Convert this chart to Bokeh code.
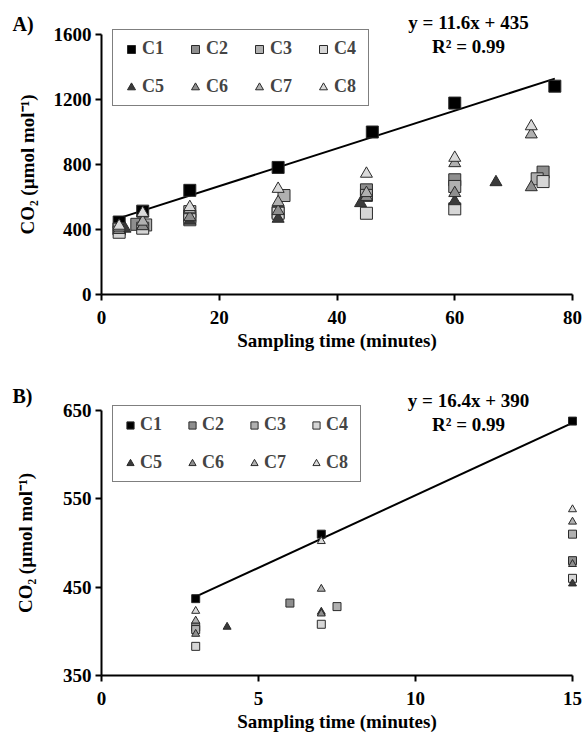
from bokeh.plotting import figure
from bokeh.models import Label, Legend, LegendItem
from bokeh.layouts import column
from bokeh.embed import file_html
from bokeh.resources import INLINE

FONT = "Liberation Serif"

# ---------------- data ----------------
series = ["C1", "C2", "C3", "C4", "C5", "C6", "C7", "C8"]
markers = ["square", "square", "square", "square",
           "triangle", "triangle", "triangle", "triangle"]
fills = ["#000000", "#8e8e8e", "#b0b0b0", "#d6d6d6",
         "#3a3a3a", "#8e8e8e", "#b0b0b0", "#dadada"]

# Panel A: whole sampling period (minutes, CO2 umol/mol)
a_time = {
    "C1": [3, 7, 15, 30, 46, 60, 77],
    "C2": [3, 6, 15, 30, 45, 60, 75],
    "C3": [3, 7.5, 15, 31, 45, 60, 74],
    "C4": [3, 7, 15, 30, 45, 60, 75],
    "C5": [4, 7, 15, 30, 44, 60, 67],
    "C6": [3, 7, 15, 30, 45, 60, 73],
    "C7": [3, 7, 15, 30, 45, 60, 73],
    "C8": [3, 7, 15, 30, 45, 60, 73],
}
a_co2 = {
    "C1": [446, 513, 641, 782, 1000, 1178, 1282],
    "C2": [405, 432, 480, 506, 644, 706, 753],
    "C3": [402, 428, 510, 609, 610, 665, 712],
    "C4": [383, 408, 460, 500, 500, 527, 695],
    "C5": [405, 422, 454, 466, 562, 574, 691],
    "C6": [397, 420, 476, 513, 600, 624, 660],
    "C7": [412, 448, 524, 568, 624, 808, 985],
    "C8": [423, 502, 538, 650, 743, 841, 1035],
}
# Panel B: first 15 minutes
b_time = {
    "C1": [3, 7, 15],
    "C2": [3, 6, 15],
    "C3": [3, 7.5, 15],
    "C4": [3, 7, 15],
    "C5": [4, 7, 15],
    "C6": [3, 7, 15],
    "C7": [3, 7, 15],
    "C8": [3, 7, 15],
}
b_co2 = {
    "C1": [437, 510, 638],
    "C2": [405, 432, 480],
    "C3": [402, 428, 510],
    "C4": [383, 408, 460],
    "C5": [405, 422, 454],
    "C6": [397, 420, 476],
    "C7": [412, 448, 524],
    "C8": [423, 502, 538],
}

a_slope, a_intercept, a_r2 = 11.6, 435, 0.99
b_slope, b_intercept, b_r2 = 16.4, 390, 0.99

a_xticks = [0, 20, 40, 60, 80]
a_yticks = [0, 400, 800, 1200, 1600]
b_xticks = [0, 5, 10, 15]
b_yticks = [350, 450, 550, 650]

X_TITLE = "Sampling time (minutes)"
Y_TITLE = "CO\u2082 (\u00b5mol mol\u207b\u00b9)"

FIG_W = 586
LEFT = 101      # px position of the y axis
AXIS_W = 471    # length of the x axis in px


def make_panel(tag, times, co2, slope, intercept, r2, xticks, yticks,
               height, ax_top, ax_bot, msize, lsize, leg_top, ystandoff,
               tag_y, eq_y):
    xmin, xmax = xticks[0], xticks[-1]
    ymin, ymax = yticks[0], yticks[-1]
    kx = (xmax - xmin) / AXIS_W
    ky = (ymax - ymin) / (ax_bot - ax_top)
    p = figure(width=FIG_W, height=height, output_backend="svg",
               toolbar_location=None,
               x_range=(xmin - LEFT * kx, xmax + (FIG_W - LEFT - AXIS_W) * kx),
               y_range=(ymin - (height - ax_bot) * ky, ymax + ax_top * ky),
               min_border=0)
    p.outline_line_color = None
    p.grid.visible = False
    p.background_fill_color = "white"
    p.border_fill_color = "white"

    for ax in (p.xaxis, p.yaxis):
        ax.axis_line_width = 2
        ax.axis_line_color = "black"
        ax.major_tick_line_width = 2
        ax.major_tick_line_color = "black"
        ax.major_tick_out = 6
        ax.major_tick_in = 0
        ax.minor_tick_line_color = None
        ax.major_label_text_font = FONT
        ax.major_label_text_font_style = "bold"
        ax.major_label_text_font_size = "19px"
        ax.major_label_text_color = "black"
        ax.axis_label_text_font = FONT
        ax.axis_label_text_font_style = "bold"
        ax.axis_label_text_font_size = "19px"
        ax.axis_label_text_color = "black"
    p.xaxis.ticker = xticks
    p.yaxis.ticker = yticks
    p.xaxis.bounds = (xmin, xmax)
    p.yaxis.bounds = (ymin, ymax)
    p.xaxis.fixed_location = ymin
    p.yaxis.fixed_location = xmin
    p.xaxis.axis_label = X_TITLE
    p.yaxis.axis_label = Y_TITLE
    p.xaxis.major_label_standoff = 10
    p.xaxis.axis_label_standoff = 3
    p.yaxis.major_label_standoff = 4
    p.yaxis.axis_label_standoff = ystandoff

    # trend line for C1
    t1 = times["C1"]
    x0, x1 = min(t1), max(t1)
    p.line([x0, x1], [slope * x0 + intercept, slope * x1 + intercept],
           line_color="black", line_width=2)

    items = []
    for name, mk, fc in zip(series, markers, fills):
        r = p.scatter(times[name], co2[name], marker=mk, size=msize,
                      fill_color=fc, line_color="#2a2a2a", line_width=1)
        items.append(LegendItem(label=name, renderers=[r]))

    leg = Legend(items=items, orientation="horizontal",
                 ncols=4, margin=0, padding=8, spacing=17,
                 glyph_width=lsize, glyph_height=lsize, label_standoff=1,
                 label_width=26, label_height=21,
                 label_text_font=FONT, label_text_font_style="bold",
                 label_text_font_size="18px",
                 border_line_color="black", border_line_width=1,
                 background_fill_color="white", background_fill_alpha=1)
    leg.location = (112, height - leg_top - 75)
    p.add_layout(leg)

    eq = "y = %sx + %s" % (slope, intercept)
    p.add_layout(Label(x=468, y=height - eq_y, x_units="screen",
                       y_units="screen",
                       text=eq, text_font=FONT, text_font_style="bold",
                       text_font_size="19px", text_align="center",
                       text_baseline="middle", text_color="black"))
    p.add_layout(Label(x=468, y=height - eq_y - 24, x_units="screen",
                       y_units="screen",
                       text="R\u00b2 = %.2f" % r2, text_font=FONT,
                       text_font_style="bold", text_font_size="19px",
                       text_align="center", text_baseline="middle",
                       text_color="black"))
    p.add_layout(Label(x=12, y=height - tag_y, x_units="screen",
                       y_units="screen",
                       text=tag, text_font=FONT, text_font_style="bold",
                       text_font_size="20px", text_align="left",
                       text_baseline="middle", text_color="black"))
    return p


pa = make_panel("A)", a_time, a_co2, a_slope, a_intercept, a_r2,
                a_xticks, a_yticks, height=358, ax_top=34, ax_bot=294,
                msize=12, lsize=20, leg_top=31, ystandoff=13,
                tag_y=23, eq_y=22)
pb = make_panel("B)", b_time, b_co2, b_slope, b_intercept, b_r2,
                b_xticks, b_yticks, height=378, ax_top=52, ax_bot=317,
                msize=8, lsize=18, leg_top=49, ystandoff=24,
                tag_y=37, eq_y=42)

layout = column(pa, pb, spacing=0)
open("out.html", "w").write(file_html(layout, INLINE))
